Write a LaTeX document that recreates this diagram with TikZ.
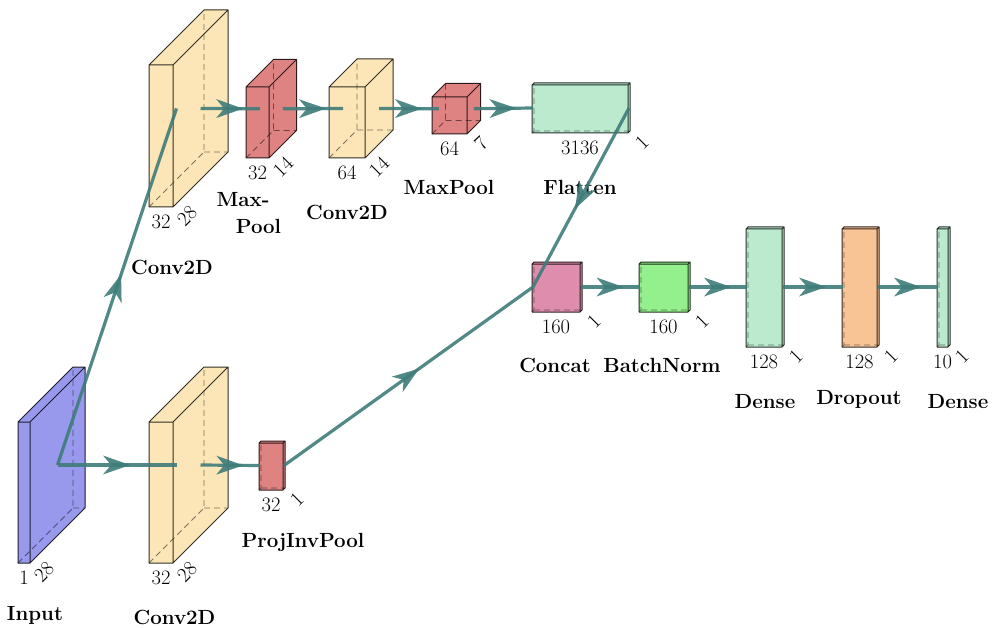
\documentclass[tikz,border=0pt]{standalone}
\usepackage{fontspec}
\usetikzlibrary{decorations.markings}

\definecolor{edgeteal}{RGB}{62,124,122}
\definecolor{inputblue}{RGB}{152,152,236}
\definecolor{convpeach}{RGB}{252,229,182}
\definecolor{poolred}{RGB}{222,130,130}
\definecolor{densegreen}{RGB}{188,234,206}
\definecolor{concatpink}{RGB}{222,142,172}
\definecolor{normgreen}{RGB}{148,240,140}
\definecolor{droporange}{RGB}{248,196,150}

\tikzset{
  capt/.style={font=\fontsize{20.5}{24}\selectfont\bfseries, inner sep=0pt},
  dimlabel/.style={font=\fontsize{20.5}{24}\selectfont, inner sep=0pt},
  conn/.style={draw=edgeteal, line width=3.2pt, opacity=0.9,
    postaction={decorate},
    decoration={markings, mark=at position 0.5 with
      {\fill[edgeteal] (13pt,0) -- (-14pt,9.5pt) -- (-6pt,0) -- (-14pt,-9.5pt) -- cycle;}}},
}

% \layerbox{name}{x0}{x1}{y0}{y1}{depth}{fill colour}
% front face spans x0..x1, y0..y1; the back face is shifted by depth up and right
\newcommand{\layerbox}[7]{%
  \pgfmathsetmacro{\bxa}{#2}\pgfmathsetmacro{\bxb}{#3}%
  \pgfmathsetmacro{\bya}{#4}\pgfmathsetmacro{\byb}{#5}%
  \pgfmathsetmacro{\bd}{#6}%
  \pgfmathsetmacro{\bxc}{\bxa+\bd}\pgfmathsetmacro{\bxd}{\bxb+\bd}%
  \pgfmathsetmacro{\byc}{\bya-\bd}\pgfmathsetmacro{\byd}{\byb-\bd}%
  \pgfmathsetmacro{\bmy}{(\bya+\byb)/2-\bd/2}%
  \pgfmathsetmacro{\bwx}{\bxa+\bd/2}\pgfmathsetmacro{\bex}{\bxb+\bd/2}%
  \pgfmathsetmacro{\bcx}{(\bxa+\bxb)/2}%
  \fill[#7] (\bxa,\bya) rectangle (\bxb,\byb);
  \fill[#7] (\bxa,\bya) -- (\bxc,\byc) -- (\bxd,\byc) -- (\bxb,\bya) -- cycle;
  \fill[#7] (\bxb,\bya) -- (\bxd,\byc) -- (\bxd,\byd) -- (\bxb,\byb) -- cycle;
  \draw[#7!50!black, dash pattern=on 6pt off 4pt, line width=0.8pt]
    (\bxa,\byb) -- (\bxc,\byd) -- (\bxc,\byc) (\bxc,\byd) -- (\bxd,\byd);
  \draw[#7!20!black, line width=1pt, line join=round]
    (\bxa,\bya) rectangle (\bxb,\byb)
    (\bxa,\bya) -- (\bxc,\byc) -- (\bxd,\byc) -- (\bxd,\byd) -- (\bxb,\byb)
    (\bxb,\bya) -- (\bxd,\byc);
  \coordinate (#1-west) at (\bwx,\bmy);
  \coordinate (#1-east) at (\bex,\bmy);
  \coordinate (#1-xl) at (\bcx,\byb+15);
  \coordinate (#1-zl) at (\bxb+14,\byb+9);
}

\begin{document}
\begin{tikzpicture}[x=1pt,y=-1pt]
\useasboundingbox (0,0) rectangle (992,628);

% layers
\layerbox{input}{18}{30}{422}{563}{55}{inputblue}
\layerbox{conv1a}{149}{173}{65}{207}{55}{convpeach}
\layerbox{conv1b}{149}{173}{422}{563}{55}{convpeach}
\layerbox{pool1}{246}{269}{87}{158}{27.5}{poolred}
\layerbox{conv2}{329}{365}{87}{158}{28}{convpeach}
\layerbox{pool2}{432}{467}{97}{134}{13.5}{poolred}
\layerbox{flat}{532}{628}{85}{133}{2}{densegreen}
\layerbox{proj}{259}{283}{443}{490}{2}{poolred}
\layerbox{concat}{532}{580}{264}{312}{2}{concatpink}
\layerbox{bn}{639}{688}{264}{312}{2}{normgreen}
\layerbox{dense1}{746}{782}{229}{347}{2}{densegreen}
\layerbox{drop}{842}{877}{229}{347}{2}{droporange}
\layerbox{dense2}{937}{948}{229}{347}{2}{densegreen}

% size labels
\node[dimlabel] (input-x) at (input-xl) {1};
\node[dimlabel, rotate=45] (input-z) at (input-zl) {28};
\node[dimlabel] (conv1a-x) at (conv1a-xl) {32};
\node[dimlabel, rotate=45] (conv1a-z) at (conv1a-zl) {28};
\node[dimlabel] (conv1b-x) at (conv1b-xl) {32};
\node[dimlabel, rotate=45] (conv1b-z) at (conv1b-zl) {28};
\node[dimlabel] (pool1-x) at (pool1-xl) {32};
\node[dimlabel, rotate=45] (pool1-z) at (pool1-zl) {14};
\node[dimlabel] (conv2-x) at (conv2-xl) {64};
\node[dimlabel, rotate=45] (conv2-z) at (conv2-zl) {14};
\node[dimlabel] (pool2-x) at (pool2-xl) {64};
\node[dimlabel, rotate=45] (pool2-z) at (pool2-zl) {7};
\node[dimlabel] (flat-x) at (flat-xl) {3136};
\node[dimlabel, rotate=45] (flat-z) at (flat-zl) {1};
\node[dimlabel] (proj-x) at (proj-xl) {32};
\node[dimlabel, rotate=45] (proj-z) at (proj-zl) {1};
\node[dimlabel] (concat-x) at (concat-xl) {160};
\node[dimlabel, rotate=45] (concat-z) at (concat-zl) {1};
\node[dimlabel] (bn-x) at (bn-xl) {160};
\node[dimlabel, rotate=45] (bn-z) at (bn-zl) {1};
\node[dimlabel] (dense1-x) at (dense1-xl) {128};
\node[dimlabel, rotate=45] (dense1-z) at (dense1-zl) {1};
\node[dimlabel] (drop-x) at (drop-xl) {128};
\node[dimlabel, rotate=45] (drop-z) at (drop-zl) {1};
\node[dimlabel] (dense2-x) at (dense2-xl) {10};
\node[dimlabel, rotate=45] (dense2-z) at (dense2-zl) {1};

% layer captions
\node[capt] (cap-input) at (35,615) {Input};
\node[capt] (cap-conv1b) at (174.5,617) {Conv2D};
\node[capt] (cap-conv1a) at (172,267) {Conv2D};
\node[capt] (cap-pool1a) at (243,200) {Max-};
\node[capt] (cap-pool1b) at (258.5,226) {Pool};
\node[capt] (cap-conv2) at (347,212) {Conv2D};
\node[capt] (cap-pool2) at (449,187) {MaxPool};
\node[capt] (cap-flat) at (580,187) {Flatten};
\node[capt] (cap-proj) at (303,542) {ProjInvPool};
\node[capt] (cap-concat) at (555,365) {Concat};
\node[capt] (cap-bn) at (662,365) {BatchNorm};
\node[capt] (cap-dense1) at (765,402) {Dense};
\node[capt] (cap-drop) at (859,399) {Dropout};
\node[capt] (cap-dense2) at (958,402) {Dense};

% connections
\draw[conn] (input-east) -- (conv1a-west);
\draw[conn] (input-east) -- (conv1b-west);
\draw[conn] (conv1a-east) -- (pool1-west);
\draw[conn] (pool1-east) -- (conv2-west);
\draw[conn] (conv2-east) -- (pool2-west);
\draw[conn] (pool2-east) -- (flat-west);
\draw[conn] (flat-east) -- (concat-west);
\draw[conn] (conv1b-east) -- (proj-west);
\draw[conn] (proj-east) -- (concat-west);
\draw[conn] (concat-east) -- (bn-west);
\draw[conn] (bn-east) -- (dense1-west);
\draw[conn] (dense1-east) -- (drop-west);
\draw[conn] (drop-east) -- (dense2-west);
\end{tikzpicture}
\end{document}
